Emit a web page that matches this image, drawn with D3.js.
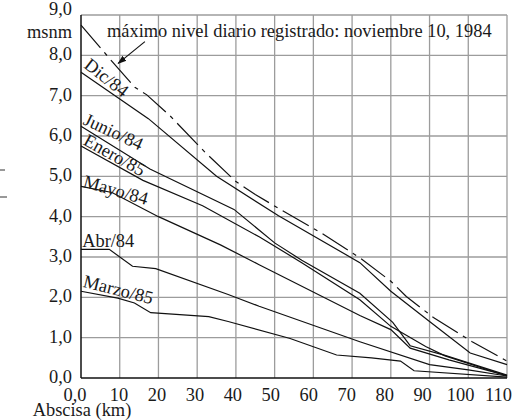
<!DOCTYPE html>
<html><head><meta charset="utf-8">
<script src="https://cdn.jsdelivr.net/npm/d3@7"></script>
<style>
body{margin:0;background:#fff}
svg{display:block}
text{font-family:"Liberation Serif","Times New Roman",serif;fill:#1a1a1a}
</style>
</head><body>
<svg id="chart" width="530" height="420"></svg>
<script>
// ---- data ----
const xTicks = [0,10,20,30,40,50,60,70,80,90,100,110];
const xTickLabels = ["0,0","10","20","30","40","50","60","70","80","90","100","110"];
const yTicks = [0,1,2,3,4,5,6,7,8,9];
const yTickLabels = ["0,0","1,0","2,0","3,0","4,0","5,0","6,0","7,0","8,0","9,0"];
const yUnit = "msnm";
const xTitle = "Abscisa (km)";
const maxNote = "máximo nivel diario registrado: noviembre 10, 1984";

const maxKm    = [0, 8, 14, 17, 23, 32, 40, 45, 52, 62, 72, 80, 84, 91, 101, 110];
const maxNivel = [8.75, 7.85, 7.2, 7.02, 6.5, 5.6, 4.87, 4.55, 4.15, 3.6, 2.98, 2.4, 2.02, 1.5, 0.9, 0.42];

const dicKm    = [0, 17.4, 35, 51, 72, 80, 90, 100.5, 110];
const dicNivel = [7.58, 6.43, 5.0, 4.02, 2.86, 2.15, 1.4, 0.62, 0.33];

const junKm    = [0, 17.8, 39.5, 50, 57, 72, 80.5, 85, 94, 110];
const junNivel = [6.24, 5.18, 4.18, 3.35, 2.92, 2.1, 1.38, 0.8, 0.56, 0.07];

const eneKm    = [0, 16, 31.4, 46, 57, 72, 80, 89, 94, 110];
const eneNivel = [5.75, 4.9, 4.27, 3.5, 2.86, 1.94, 1.28, 0.78, 0.55, 0.05];

const mayKm    = [0, 8, 20, 36, 46, 72, 80, 85, 95, 110];
const mayNivel = [4.75, 4.6, 4.0, 3.3, 2.81, 1.55, 1.2, 0.74, 0.45, 0.06];

const abrKm    = [0, 7.3, 13.3, 19.3, 38, 46, 72, 90, 100, 110];
const abrNivel = [3.19, 3.19, 2.77, 2.71, 2.07, 1.78, 0.9, 0.33, 0.2, 0.05];

const marKm    = [0, 9.5, 13.8, 18, 33, 38, 54, 66, 75, 82.5, 86, 110];
const marNivel = [2.15, 1.98, 1.86, 1.62, 1.52, 1.40, 0.98, 0.57, 0.5, 0.42, 0.18, 0.02];

const seriesNames = ["Dic/84","Junio/84","Enero/85","Mayo/84","Abr/84","Marzo/85"];

// ---- layout ----
const FS = 18.4;
const svg = d3.select("#chart");
const x = d3.scaleLinear().domain([0,110]).range([81,507]);
const y = d3.scaleLinear().domain([0,9]).range([378,15]);
const xLab = d3.scaleLinear().domain([10,110]).range([119,498.5]);
const gridColor = "#9c9c9c";

// grid
svg.append("g").selectAll("line").data(xTicks.slice(1)).join("line")
  .attr("x1",d=>x(d)).attr("x2",d=>x(d)).attr("y1",y(9)).attr("y2",y(0))
  .attr("stroke",gridColor).attr("stroke-width",1.3);
svg.append("g").selectAll("line").data(yTicks.slice(1)).join("line")
  .attr("x1",x(0)).attr("x2",x(110)).attr("y1",d=>y(d)).attr("y2",d=>y(d))
  .attr("stroke",gridColor).attr("stroke-width",1.3);

// axes (left & bottom)
svg.append("line").attr("x1",x(0)).attr("x2",x(0)).attr("y1",y(9)).attr("y2",y(0))
  .attr("stroke","#111").attr("stroke-width",1.5);
svg.append("line").attr("x1",x(0)).attr("x2",x(110)).attr("y1",y(0)).attr("y2",y(0))
  .attr("stroke","#111").attr("stroke-width",1.5);

// tick labels
svg.append("g").selectAll("text").data(xTicks).join("text")
  .attr("x",d=>d===0 ? x(0)-6 : xLab(d)).attr("y",401)
  .attr("text-anchor","middle").attr("font-size",FS)
  .text((d,i)=>xTickLabels[i]);
svg.append("g").selectAll("text").data(yTicks).join("text")
  .attr("x",72).attr("y",d=>d===9 ? y(d) : y(d)+5)
  .attr("text-anchor","end").attr("font-size",FS)
  .text((d,i)=>yTickLabels[i]);
svg.append("text").attr("x",72).attr("y",38).attr("text-anchor","end")
  .attr("font-size",FS).text(yUnit);
svg.append("text").attr("x",82).attr("y",416).attr("text-anchor","middle")
  .attr("font-size",FS).text(xTitle);

// stray marks at left margin
svg.append("line").attr("x1",0).attr("x2",5).attr("y1",170).attr("y2",170).attr("stroke","#333").attr("stroke-width",1);
svg.append("line").attr("x1",0).attr("x2",7).attr("y1",197).attr("y2",197).attr("stroke","#333").attr("stroke-width",1);

// curves
const line = d3.line().x(d=>x(d[0])).y(d=>y(d[1]));
const zip = (a,b)=>a.map((v,i)=>[v,b[i]]);
const solid = [[dicKm,dicNivel],[junKm,junNivel],[eneKm,eneNivel],[mayKm,mayNivel],[abrKm,abrNivel],[marKm,marNivel]];
svg.append("g").selectAll("path").data(solid).join("path")
  .attr("d",d=>line(zip(d[0],d[1])))
  .attr("fill","none").attr("stroke","#111").attr("stroke-width",1.2);
svg.append("path").attr("d",line(zip(maxKm,maxNivel)))
  .attr("fill","none").attr("stroke","#111").attr("stroke-width",1.2)
  .attr("stroke-dasharray","30,6,4,6");

// curve labels (placement in km / msnm, rotation in degrees)
const labelPlace = [
  {km:0.5, v:7.71, rot:38},
  {km:0.3, v:6.30, rot:25},
  {km:0.3, v:5.80, rot:29},
  {km:0.3, v:4.74, rot:16},
  {km:0.3, v:3.25, rot:0},
  {km:0.3, v:2.26, rot:14}
];
svg.append("g").selectAll("text").data(seriesNames).join("text")
  .attr("transform",(d,i)=>`translate(${x(labelPlace[i].km)},${y(labelPlace[i].v)}) rotate(${labelPlace[i].rot})`)
  .attr("font-size",FS).text(d=>d);

// annotation
svg.append("text").attr("x",107).attr("y",37).attr("font-size",FS).text(maxNote);
const defs = svg.append("defs");
defs.append("marker").attr("id","ah").attr("viewBox","0 0 10 10").attr("refX",9).attr("refY",5)
  .attr("markerWidth",9).attr("markerHeight",9).attr("orient","auto").attr("markerUnits","userSpaceOnUse")
  .append("path").attr("d","M0,1.5L10,5L0,8.5Z").attr("fill","#111");
svg.append("line").attr("x1",x(16.5)).attr("y1",y(8.34)).attr("x2",x(9.6)).attr("y2",y(7.8))
  .attr("stroke","#111").attr("stroke-width",1.2).attr("marker-end","url(#ah)");
</script>
</body></html>
